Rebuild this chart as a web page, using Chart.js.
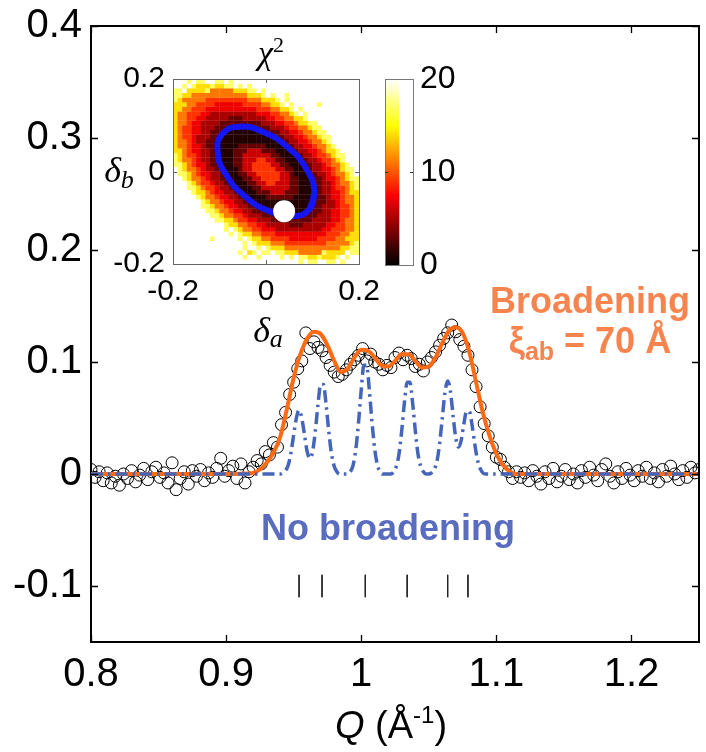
<!DOCTYPE html>
<html><head><meta charset="utf-8">
<script src="https://cdn.jsdelivr.net/npm/chart.js@4.4.1/dist/chart.umd.min.js"></script>
<style>
html,body{margin:0;padding:0;background:#fff;}
#wrap{position:relative;width:706px;height:752px;overflow:hidden;}
canvas{position:absolute;}
</style></head><body>
<div id="wrap">
<canvas id="main" width="706" height="752" style="left:0;top:0"></canvas>
<canvas id="inset" width="290" height="310" style="left:90px;top:20px"></canvas>
<canvas id="cbar" width="110" height="240" style="left:375px;top:55px"></canvas>
</div>
<script>
// ---------------- DATA ----------------
// measured data (open circles)
const dataQ = [0.800,0.803,0.806,0.809,0.812,0.815,0.818,0.821,0.824,0.827,0.830,0.833,0.836,0.839,0.842,0.845,0.848,0.851,0.854,0.857,0.860,0.863,0.866,0.869,0.872,0.875,0.878,0.881,0.884,0.887,0.890,0.893,0.896,0.899,0.902,0.905,0.908,0.911,0.914,0.917,0.920,0.923,0.926,0.929,0.932,0.935,0.938,0.941,0.944,0.947,0.950,0.953,0.956,0.959,0.962,0.965,0.968,0.971,0.974,0.977,0.980,0.983,0.986,0.989,0.992,0.995,0.998,1.001,1.004,1.007,1.010,1.013,1.016,1.019,1.022,1.025,1.028,1.031,1.034,1.037,1.040,1.043,1.046,1.049,1.052,1.055,1.058,1.061,1.064,1.067,1.070,1.073,1.076,1.079,1.082,1.085,1.088,1.091,1.094,1.097,1.100,1.103,1.106,1.109,1.112,1.115,1.118,1.121,1.124,1.127,1.130,1.133,1.136,1.139,1.142,1.145,1.148,1.151,1.154,1.157,1.160,1.163,1.166,1.169,1.172,1.175,1.178,1.181,1.184,1.187,1.190,1.193,1.196,1.199,1.202,1.205,1.208,1.211,1.214,1.217,1.220,1.223,1.226,1.229,1.232,1.235,1.238,1.241,1.244,1.247,1.250];
const dataI = [0.004,-0.003,0.002,-0.006,0.001,-0.008,-0.002,-0.010,0.000,-0.004,0.003,-0.007,-0.001,0.005,-0.005,0.002,0.006,-0.003,0.001,-0.008,0.010,-0.014,-0.004,0.002,-0.009,0.003,-0.002,0.004,-0.006,0.001,-0.003,0.005,0.014,-0.002,0.003,0.007,-0.004,0.009,-0.008,0.002,0.006,0.012,0.009,0.020,0.017,0.028,0.024,0.044,0.055,0.071,0.082,0.094,0.101,0.126,0.112,0.118,0.113,0.110,0.104,0.097,0.091,0.087,0.089,0.093,0.098,0.102,0.106,0.112,0.101,0.107,0.100,0.098,0.093,0.097,0.095,0.104,0.108,0.102,0.106,0.103,0.096,0.098,0.092,0.100,0.104,0.109,0.115,0.121,0.126,0.133,0.127,0.120,0.114,0.106,0.093,0.078,0.060,0.045,0.034,0.024,0.015,0.013,0.006,0.002,-0.004,0.002,-0.003,0.001,-0.006,0.003,-0.002,-0.009,0.002,-0.004,0.005,-0.007,-0.002,0.004,-0.005,0.000,-0.008,0.003,-0.003,0.006,-0.001,-0.006,0.004,0.009,-0.002,-0.008,0.002,-0.004,0.005,-0.001,-0.006,0.003,-0.002,0.006,-0.004,0.001,-0.007,0.004,-0.002,0.007,0.000,-0.005,0.003,-0.003,0.006,0.001,0.004];

// fit with broadening (orange)
const fitQ = [0.800,0.900,0.915,0.920,0.925,0.930,0.935,0.940,0.945,0.950,0.955,0.960,0.965,0.970,0.975,0.980,0.985,0.990,0.995,1.000,1.005,1.010,1.015,1.020,1.025,1.030,1.035,1.040,1.045,1.050,1.055,1.060,1.065,1.070,1.075,1.080,1.085,1.090,1.095,1.100,1.105,1.110,1.115,1.250];
const fitI = [0,0,0.0005,0.001,0.004,0.010,0.019,0.033,0.058,0.086,0.107,0.121,0.127,0.125,0.115,0.101,0.091,0.094,0.104,0.111,0.110,0.104,0.097,0.096,0.101,0.107,0.107,0.101,0.095,0.096,0.104,0.117,0.128,0.131,0.126,0.109,0.082,0.055,0.034,0.018,0.008,0.002,0,0];

// calculation without broadening (blue dash-dot)
const noBroadQ = [0.800,0.938,0.940,0.942,0.944,0.946,0.948,0.950,0.952,0.954,0.956,0.958,0.960,0.962,0.964,0.966,0.968,0.970,0.972,0.974,0.976,0.978,0.980,0.982,0.984,0.990,0.992,0.994,0.996,0.998,1.000,1.002,1.004,1.006,1.008,1.010,1.012,1.014,1.016,1.022,1.024,1.026,1.028,1.030,1.032,1.034,1.036,1.038,1.040,1.042,1.044,1.046,1.048,1.050,1.052,1.054,1.056,1.058,1.060,1.062,1.064,1.066,1.068,1.070,1.072,1.074,1.076,1.078,1.080,1.082,1.084,1.086,1.088,1.090,1.092,1.250];
const noBroadI = [0,0,0.000,0.001,0.003,0.008,0.019,0.035,0.050,0.057,0.050,0.035,0.020,0.014,0.020,0.038,0.062,0.080,0.080,0.062,0.038,0.018,0.007,0.002,0.000,0.000,0.002,0.008,0.022,0.046,0.075,0.097,0.097,0.075,0.046,0.022,0.008,0.002,0.000,0.000,0.002,0.007,0.018,0.039,0.064,0.082,0.082,0.064,0.039,0.018,0.007,0.002,0.000,0.000,0.001,0.004,0.011,0.027,0.050,0.073,0.083,0.074,0.052,0.032,0.024,0.030,0.045,0.056,0.056,0.044,0.027,0.013,0.005,0.001,0.000,0];

// Bragg peak positions (tick marks)
const peakQ = [0.954,0.971,1.003,1.034,1.064,1.079];
const peakTickRange = [-0.09,-0.11];

// axis ticks
const xTickVals = [0.8,0.9,1.0,1.1,1.2];
const xTickLabels = ['0.8','0.9','1','1.1','1.2'];
const yTickVals = [-0.1,0,0.1,0.2,0.3,0.4];
const yTickLabels = ['-0.1','0','0.1','0.2','0.3','0.4'];

// inset: chi^2 map (rows top->bottom = delta_b 0.195 .. -0.195; cols = delta_a -0.195 .. 0.195)
// chars: 0-9 -> value, a..k -> 10..20, '.' -> above 20 (white)
const deltaA = [-0.195,-0.185,-0.175,-0.165,-0.155,-0.145,-0.135,-0.125,-0.115,-0.105,-0.095,-0.085,-0.075,-0.065,-0.055,-0.045,-0.035,-0.025,-0.015,-0.005,0.005,0.015,0.025,0.035,0.045,0.055,0.065,0.075,0.085,0.095,0.105,0.115,0.125,0.135,0.145,0.155,0.165,0.175,0.185,0.195];
const deltaB = [0.195,0.185,0.175,0.165,0.155,0.145,0.135,0.125,0.115,0.105,0.095,0.085,0.075,0.065,0.055,0.045,0.035,0.025,0.015,0.005,-0.005,-0.015,-0.025,-0.035,-0.045,-0.055,-0.065,-0.075,-0.085,-0.095,-0.105,-0.115,-0.125,-0.135,-0.145,-0.155,-0.165,-0.175,-0.185,-0.195];
const chi2Rows = [
"...h.hh..hh.h...........................",
"..h.heeeheehh.h.h.......................",
"hh.eeeehbbbbbeeehh.h....................",
"hheebbbbbbbbbbbbeeeh.h..h...............",
"hebbbbb999999999bbbeeeh.h...............",
"eeebb99997777779999bbeeh.h.....h........",
"eebb99977777777777999bbeeh.h............",
"ebb99977555555555577799bbeh.h...........",
"ebb99775555533355555" + "7799bbeeh...........",
"ebb9775555333333333555" + "7799beehh.........",
"eb9977555333311113333555" + "799bbehh........",
"eb997755333111111111333" + "55779bbehh.......",
"eb99755533111111111111" + "3355779bbehh......",
"ebb97553331111111111111" + "3355779bbeh......",
"ebb977533111113333331111" + "3355779bbeh.....",
"eeb977553111133366633311113" + "55779beeh....",
"heb9975533111336666663311113" + "55799behh...",
"hebb9755331113366699663311133" + "55799beh...",
"hheb97753311133669999663311133" + "5579bbeh..",
".hebb9755331113669999966331113" + "55779behh.",
".hheb97755311133669999966311133" + "5579bbeh.",
"..hebb97553311133669999663311133" + "5779behh",
"...heb99755331113366996663311133" + "5579bbeh",
"...hheb997553111133666666331113" + "355799beh",
"....heeb97755311113336663331111" + "355779bee",
".....hebb97755331111333333111113" + "35779bbe",
"......hebb977553311111111111113" + "335579bbe",
"......hhebb977553311111111111133" + "555799be",
".......hhebb977553331111111113" + "33557799be",
"........hhebb9975553333111133335557799be",
".........hheeb99775553333333335555779bbe",
"...........heebb997755555333" + "555557799bbe",
"...........h.hebb997775555555555" + "77999bbe",
"............h.heebb99977777777777" + "999bbee",
"........h.....h.heebb99997777779" + "999bbeee",
"...............h.heeebbb99999999" + "9bbbbbeh",
"...............h..h.heeebbbbbbbb" + "bbbbeehh",
"..............h.eh.hh.hheeebbbbb" + "heeee.hh",
"...............h..h....h.h.hheeh" + "eeeh.h..",
"...........................h.hh..hh.h..."
];

// blue ellipse (confidence contour) and best-fit point
const ellipseA = [0.094,0.104,0.087,0.046,-0.007,-0.058,-0.094,-0.104,-0.087,-0.046,0.007,0.058,0.094,0.104];
const ellipseB = [-0.081,-0.044,0.005,0.053,0.086,0.097,0.081,0.044,-0.005,-0.053,-0.086,-0.097,-0.081,-0.044];
const bestA = [0.039];
const bestB = [-0.086];
const insetTickVals = [-0.2,0,0.2];
const insetTickLabels = ['-0.2','0','0.2'];
const cbarRange = [0,20];
const cbarTickVals = [0,10,20];
const cbarTickLabels = ['0','10','20'];

// ---------------- STYLE ----------------
const FONT = "'Liberation Sans', Arial, Helvetica, sans-serif";
const SERIF = "'Liberation Serif', 'DejaVu Serif', 'Times New Roman', serif";
const ORANGE = '#ff6a14';
const ORANGE_TXT = '#f7844f';
const BLUE = '#4565bb';
const BLUE_TXT = '#5a6cc0';
Chart.defaults.font.family = FONT;

function hot(v){
  const t = Math.max(0, Math.min(1, v/20));
  const r = Math.min(1, t/0.375);
  const g = Math.max(0, Math.min(1, (t-0.375)/0.375));
  const b = Math.max(0, Math.min(1, (t-0.75)/0.25));
  return 'rgb(' + Math.round(r*255) + ',' + Math.round(g*255) + ',' + Math.round(b*255) + ')';
}
function level(ch){ if (ch === '.' || ch === ' ' || ch === undefined) return 25; const v = parseInt(ch, 36); return isNaN(v) ? 25 : v; }
function noPad(s){ s.paddingTop = 0; s.paddingBottom = 0; s.paddingLeft = 0; s.paddingRight = 0; }

function drawRich(ctx, parts, cx, base){
  let total = 0;
  parts.forEach(p => { ctx.font = p.font; p.w = ctx.measureText(p.t).width; total += p.w; });
  let x = cx - total/2;
  ctx.textAlign = 'left'; ctx.textBaseline = 'alphabetic';
  parts.forEach(p => { ctx.font = p.font; ctx.fillStyle = p.color || '#000'; ctx.fillText(p.t, x, base + (p.dy || 0)); x += p.w; });
}

// ---------------- MAIN CHART ----------------
const mainFrame = {
  id:'mainFrame',
  afterDraw(chart){
    const {ctx, chartArea:{left,right,top,bottom}, scales:{x,y}} = chart;
    ctx.save();
    ctx.strokeStyle = '#000'; ctx.lineWidth = 2;
    ctx.beginPath(); ctx.moveTo(left, top); ctx.lineTo(right, top); ctx.lineTo(right, bottom); ctx.stroke();
    ctx.lineWidth = 1.3; ctx.beginPath();
    x.ticks.forEach(t => { const p = Math.round(x.getPixelForValue(t.value)) + 0.5;
      ctx.moveTo(p, bottom); ctx.lineTo(p, bottom - 7); ctx.moveTo(p, top); ctx.lineTo(p, top + 7); });
    y.ticks.forEach(t => { const p = Math.round(y.getPixelForValue(t.value)) + 0.5;
      ctx.moveTo(left, p); ctx.lineTo(left + 7, p); ctx.moveTo(right, p); ctx.lineTo(right - 7, p); });
    ctx.stroke();
    // annotations
    ctx.fillStyle = ORANGE_TXT; ctx.font = 'bold 36px ' + FONT; ctx.textAlign = 'center'; ctx.textBaseline = 'alphabetic';
    ctx.fillText('Broadening', 590, 313);
    drawRich(ctx, [
      {t:'ξ', font:'bold 36px ' + FONT, color:ORANGE_TXT},
      {t:'ab', font:'bold 25px ' + FONT, color:ORANGE_TXT, dy:7},
      {t:' = 70 Å', font:'bold 36px ' + FONT, color:ORANGE_TXT}
    ], 590, 353);
    ctx.fillStyle = BLUE_TXT; ctx.font = 'bold 36px ' + FONT; ctx.textAlign = 'center';
    ctx.fillText('No broadening', 388, 540);
    // x axis title
    drawRich(ctx, [
      {t:'Q', font:'italic 38px ' + FONT},
      {t:' (Å', font:'38px ' + FONT},
      {t:'-1', font:'24px ' + FONT, dy:-15},
      {t:')', font:'38px ' + FONT}
    ], 391, 738);
    // inset labels
    drawRich(ctx, [{t:'χ', font:'italic 34px ' + SERIF}, {t:'2', font:'22px ' + SERIF, dy:-12}], 271, 64);
    drawRich(ctx, [{t:'δ', font:'italic 36px ' + SERIF}, {t:'b', font:'italic 26px ' + SERIF, dy:6}], 119, 182);
    drawRich(ctx, [{t:'δ', font:'italic 36px ' + SERIF}, {t:'a', font:'italic 26px ' + SERIF, dy:5}], 268, 342);
    ctx.restore();
  }
};

new Chart(document.getElementById('main'), {
  type:'scatter',
  data:{ datasets:[
    { label:'No broadening', type:'line', data: noBroadQ.map((q,i)=>({x:q, y:noBroadI[i]})),
      borderColor: BLUE, borderWidth:3.5, borderDash:[12,5,2.5,5], pointRadius:0, fill:false, cubicInterpolationMode:'monotone' },
    { label:'Broadening', type:'line', data: fitQ.map((q,i)=>({x:q, y:fitI[i]})),
      borderColor: ORANGE, borderWidth:4, pointRadius:0, fill:false, cubicInterpolationMode:'monotone' },
    { label:'Data', data: dataQ.map((q,i)=>({x:q, y:dataI[i]})),
      pointStyle:'circle', pointRadius:6, borderColor:'#000', borderWidth:1, backgroundColor:'rgba(0,0,0,0)' },
    { label:'Peaks', type:'line', data: peakQ.flatMap(q => [{x:q, y:peakTickRange[0]}, {x:q, y:peakTickRange[1]}, {x:q, y:null}]),
      borderColor:'#222', borderWidth:1, pointRadius:0, spanGaps:false, fill:false }
  ]},
  options:{
    responsive:false, devicePixelRatio:1, animation:false,
    layout:{padding:{top:26, right:1, left:0, bottom:0}},
    plugins:{legend:{display:false}, tooltip:{enabled:false}},
    scales:{
      x:{ type:'linear', min:0.8, max:1.25,
        afterBuildTicks: s => { s.ticks = xTickVals.map(v => ({value:v})); },
        afterFit: s => { s.height = 110; noPad(s); },
        grid:{display:false, drawTicks:false}, border:{display:true, color:'#000', width:2},
        ticks:{ font:{size:40, family:FONT}, color:'#000', padding:9, maxRotation:0, autoSkip:false,
          callback: v => xTickLabels[xTickVals.indexOf(v)] } },
      y:{ type:'linear', min:-0.15, max:0.4,
        afterBuildTicks: s => { s.ticks = yTickVals.map(v => ({value:v})); },
        afterFit: s => { s.width = 91; noPad(s); },
        grid:{display:false, drawTicks:false}, border:{display:true, color:'#000', width:2},
        ticks:{ font:{size:40, family:FONT}, color:'#000', padding:9, autoSkip:false,
          callback: v => yTickLabels[yTickVals.indexOf(v)] } }
    }
  },
  plugins:[mainFrame]
});

// ---------------- INSET CHI^2 MAP ----------------
const HALF = 0.0053;
const heatSets = chi2Rows.map((row, r) => ({
  type:'bar', stack:'heat', label:'row'+r,
  data: deltaA.map(a => ({x:a, y:[deltaB[r]-HALF, deltaB[r]+HALF]})),
  backgroundColor: deltaA.map((a,c) => hot(level(row[c]))),
  barPercentage:1.08, categoryPercentage:1, borderWidth:0, borderSkipped:false
}));
const insetFrame = {
  id:'insetFrame',
  afterDraw(chart){
    const {ctx, chartArea:{left,right,top,bottom}, scales:{x,y}} = chart;
    ctx.save(); ctx.strokeStyle = '#666'; ctx.lineWidth = 1;
    ctx.strokeRect(Math.round(left)+0.5, Math.round(top)+0.5, Math.round(right-left), Math.round(bottom-top));
    ctx.beginPath();
    x.ticks.forEach(t => { const p = Math.round(x.getPixelForValue(t.value))+0.5; ctx.moveTo(p,bottom); ctx.lineTo(p,bottom-4); ctx.moveTo(p,top); ctx.lineTo(p,top+4); });
    y.ticks.forEach(t => { const p = Math.round(y.getPixelForValue(t.value))+0.5; ctx.moveTo(left,p); ctx.lineTo(left+4,p); ctx.moveTo(right,p); ctx.lineTo(right-4,p); });
    ctx.stroke(); ctx.restore();
  }
};
new Chart(document.getElementById('inset'), {
  type:'bar',
  data:{ datasets:[
    { type:'scatter', label:'best', data: bestA.map((a,i)=>({x:a, y:bestB[i]})), pointRadius:11, pointHoverRadius:11,
      backgroundColor:'#fff', borderColor:'#fff', borderWidth:0 },
    { type:'line', label:'contour', data: ellipseA.map((a,i)=>({x:a, y:ellipseB[i]})), borderColor:'#1515f2', borderWidth:6,
      pointRadius:0, tension:0.5, fill:false },
    ...heatSets
  ]},
  options:{
    responsive:false, devicePixelRatio:1, animation:false,
    layout:{padding:{top:59, right:21, left:0, bottom:0}},
    plugins:{legend:{display:false}, tooltip:{enabled:false}},
    scales:{
      x:{ type:'linear', min:-0.2, max:0.2, offset:false,
        afterBuildTicks: s => { s.ticks = insetTickVals.map(v => ({value:v})); },
        afterFit: s => { s.height = 66; noPad(s); },
        grid:{display:false, drawTicks:false, offset:false}, border:{display:false},
        ticks:{ font:{size:30, family:FONT}, color:'#000', padding:10, maxRotation:0, autoSkip:false,
          callback: v => insetTickLabels[insetTickVals.indexOf(v)] } },
      y:{ type:'linear', min:-0.2, max:0.2, stacked:false,
        afterBuildTicks: s => { s.ticks = insetTickVals.map(v => ({value:v})); },
        afterFit: s => { s.width = 83; noPad(s); },
        grid:{display:false, drawTicks:false}, border:{display:false},
        ticks:{ font:{size:30, family:FONT}, color:'#000', padding:8, autoSkip:false,
          callback: v => insetTickLabels[insetTickVals.indexOf(v)] } }
    }
  },
  plugins:[insetFrame]
});

// ---------------- COLORBAR ----------------
const cbarFrame = {
  id:'cbarFrame',
  afterDraw(chart){
    const {ctx, chartArea:{left,right,top,bottom}, scales:{y}} = chart;
    ctx.save(); ctx.strokeStyle = '#777'; ctx.lineWidth = 1;
    ctx.strokeRect(Math.round(left)+0.5, Math.round(top)+0.5, Math.round(right-left), Math.round(bottom-top));
    const p = Math.round(y.getPixelForValue(cbarTickVals[1]))+0.5;
    ctx.beginPath(); ctx.moveTo(left,p); ctx.lineTo(left+3,p); ctx.moveTo(right,p); ctx.lineTo(right-3,p);
    ctx.strokeStyle = '#333'; ctx.stroke(); ctx.restore();
  }
};
new Chart(document.getElementById('cbar'), {
  type:'bar',
  data:{ labels:['chi2'], datasets:[{ data:[cbarRange], borderWidth:0, barPercentage:1, categoryPercentage:1,
    backgroundColor: (c) => {
      const ch = c.chart; const y = ch.scales.y;
      if (!ch.chartArea || !y) return '#000';
      const g = ch.ctx.createLinearGradient(0, y.getPixelForValue(cbarRange[0]), 0, y.getPixelForValue(cbarRange[1]));
      [0, 7.5, 15, 20].forEach(v => g.addColorStop(v/20, hot(v)));
      return g;
    } }]},
  options:{
    responsive:false, devicePixelRatio:1, animation:false,
    layout:{padding:{left:10, top:24, bottom:30, right:0}},
    plugins:{legend:{display:false}, tooltip:{enabled:false}},
    scales:{
      x:{ display:false, offset:false },
      y:{ position:'right', min:0, max:20,
        afterBuildTicks: s => { s.ticks = cbarTickVals.map(v => ({value:v})); },
        afterFit: s => { s.width = 72; noPad(s); },
        grid:{display:false, drawTicks:false}, border:{display:false},
        ticks:{ font:{size:32, family:FONT}, color:'#000', padding:7, autoSkip:false,
          callback: v => cbarTickLabels[cbarTickVals.indexOf(v)] } }
    }
  },
  plugins:[cbarFrame]
});
</script>
</body></html>
